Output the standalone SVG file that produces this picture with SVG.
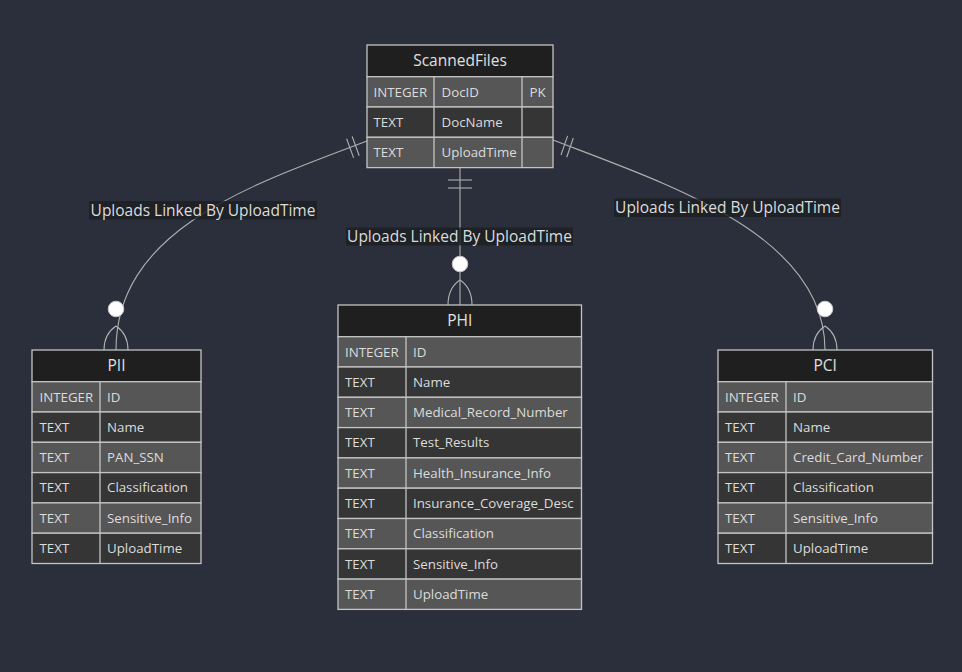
<svg xmlns="http://www.w3.org/2000/svg" width="962" height="672" viewBox="0 0 962 672">
<style>
.bg{fill:#2b2f3b}
.hdr{fill:#1f1f1f;stroke:#c4c4c4;stroke-width:1.3}
.odd{fill:#565656;stroke:#c4c4c4;stroke-width:1.3}
.even{fill:#353535;stroke:#c4c4c4;stroke-width:1.3}
.div{stroke:#c4c4c4;stroke-width:1.3}
.ht{font-family:"Open Sans","Liberation Sans",sans-serif;font-size:15.5px;fill:#e0e0e0;text-anchor:middle}
.rt{font-family:"Open Sans","Liberation Sans",sans-serif;font-size:13.3px;fill:#dcdcdc}
.edge{fill:none;stroke:#b0b0b0;stroke-width:1.1}
.lblbg{fill:#1c1e22;opacity:0.8}
.lt{font-family:"Open Sans","Liberation Sans",sans-serif;font-size:15.5px;fill:#dcdcdc;text-anchor:middle}
.dot{fill:#ffffff;stroke:#c4c4c4;stroke-width:1}
</style>
<rect class="bg" x="0" y="0" width="962" height="672"/>

<g id="connectors">
  <!-- ScannedFiles -> PII -->
  <path class="edge" d="M367,141 C250,185 116,230 116,350"/>
  <line class="edge" x1="352.2" y1="136.5" x2="359.2" y2="155.7"/>
  <line class="edge" x1="346.6" y1="138.8" x2="353.6" y2="157.9"/>
  <circle class="dot" cx="116" cy="309" r="7.8"/>
  <path class="edge" d="M116,326 Q104,334 104,350 M116,326 Q128,334 128,350"/>
  <!-- ScannedFiles -> PHI -->
  <path class="edge" d="M460,168 L460,305"/>
  <line class="edge" x1="448" y1="180" x2="472" y2="180"/>
  <line class="edge" x1="448" y1="188" x2="472" y2="188"/>
  <circle class="dot" cx="460" cy="264" r="7.8"/>
  <path class="edge" d="M460,280 Q448,288 448,305 M460,280 Q472,288 472,305"/>
  <!-- ScannedFiles -> PCI -->
  <path class="edge" d="M553,140 C670,185 825,235 825,350"/>
  <line class="edge" x1="567.6" y1="135.9" x2="561" y2="155"/>
  <line class="edge" x1="573.3" y1="138" x2="566.7" y2="157.2"/>
  <circle class="dot" cx="825" cy="309" r="7.8"/>
  <path class="edge" d="M825,326 Q813,334 813,350 M825,326 Q837,334 837,350"/>
  <!-- labels -->
  <rect class="lblbg" x="89" y="201" width="228" height="18.5"/>
  <text class="lt" x="203" y="215.5">Uploads Linked By UploadTime</text>
  <rect class="lblbg" x="346" y="227.5" width="227" height="18"/>
  <text class="lt" x="459.5" y="241.5">Uploads Linked By UploadTime</text>
  <rect class="lblbg" x="614" y="198.5" width="227" height="18.5"/>
  <text class="lt" x="727.5" y="212.5">Uploads Linked By UploadTime</text>
</g>

<g id="ScannedFiles">
  <rect class="hdr" x="367" y="45" width="186" height="31.7"/>
  <text class="ht" x="460" y="66">ScannedFiles</text>
  <rect class="odd" x="367" y="76.7" width="186" height="30.3"/>
  <rect class="even" x="367" y="107" width="186" height="30.3"/>
  <rect class="odd" x="367" y="137.3" width="186" height="30.3"/>
  <line class="div" x1="434" y1="76.7" x2="434" y2="167.6"/>
  <line class="div" x1="522" y1="76.7" x2="522" y2="167.6"/>
  <text class="rt" x="373.5" y="96.5">INTEGER</text><text class="rt" x="441.5" y="96.5">DocID</text><text class="rt" x="529.5" y="96.5">PK</text>
  <text class="rt" x="373.5" y="126.8">TEXT</text><text class="rt" x="441.5" y="126.8">DocName</text>
  <text class="rt" x="373.5" y="157.1">TEXT</text><text class="rt" x="441.5" y="157.1">UploadTime</text>
</g>

<g id="PII">
  <rect class="hdr" x="32" y="350" width="169" height="31.7"/>
  <text class="ht" x="116.5" y="371">PII</text>
  <rect class="odd" x="32" y="381.7" width="169" height="30.3"/>
  <rect class="even" x="32" y="412" width="169" height="30.3"/>
  <rect class="odd" x="32" y="442.3" width="169" height="30.3"/>
  <rect class="even" x="32" y="472.6" width="169" height="30.3"/>
  <rect class="odd" x="32" y="502.9" width="169" height="30.3"/>
  <rect class="even" x="32" y="533.2" width="169" height="30.3"/>
  <line class="div" x1="100" y1="381.7" x2="100" y2="563.5"/>
  <text class="rt" x="39.5" y="401.5">INTEGER</text><text class="rt" x="107" y="401.5">ID</text>
  <text class="rt" x="39.5" y="431.8">TEXT</text><text class="rt" x="107" y="431.8">Name</text>
  <text class="rt" x="39.5" y="462.1">TEXT</text><text class="rt" x="107" y="462.1">PAN_SSN</text>
  <text class="rt" x="39.5" y="492.4">TEXT</text><text class="rt" x="107" y="492.4">Classification</text>
  <text class="rt" x="39.5" y="522.7">TEXT</text><text class="rt" x="107" y="522.7">Sensitive_Info</text>
  <text class="rt" x="39.5" y="553">TEXT</text><text class="rt" x="107" y="553">UploadTime</text>
</g>

<g id="PHI">
  <rect class="hdr" x="338" y="305" width="243.5" height="31.7"/>
  <text class="ht" x="459.7" y="326">PHI</text>
  <rect class="odd" x="338" y="336.7" width="243.5" height="30.3"/>
  <rect class="even" x="338" y="367" width="243.5" height="30.3"/>
  <rect class="odd" x="338" y="397.3" width="243.5" height="30.3"/>
  <rect class="even" x="338" y="427.6" width="243.5" height="30.3"/>
  <rect class="odd" x="338" y="457.9" width="243.5" height="30.3"/>
  <rect class="even" x="338" y="488.2" width="243.5" height="30.3"/>
  <rect class="odd" x="338" y="518.5" width="243.5" height="30.3"/>
  <rect class="even" x="338" y="548.8" width="243.5" height="30.3"/>
  <rect class="odd" x="338" y="579.1" width="243.5" height="30.3"/>
  <line class="div" x1="406" y1="336.7" x2="406" y2="609.4"/>
  <text class="rt" x="345" y="356.5">INTEGER</text><text class="rt" x="413" y="356.5">ID</text>
  <text class="rt" x="345" y="386.8">TEXT</text><text class="rt" x="413" y="386.8">Name</text>
  <text class="rt" x="345" y="417.1">TEXT</text><text class="rt" x="413" y="417.1">Medical_Record_Number</text>
  <text class="rt" x="345" y="447.4">TEXT</text><text class="rt" x="413" y="447.4">Test_Results</text>
  <text class="rt" x="345" y="477.7">TEXT</text><text class="rt" x="413" y="477.7">Health_Insurance_Info</text>
  <text class="rt" x="345" y="508">TEXT</text><text class="rt" x="413" y="508">Insurance_Coverage_Desc</text>
  <text class="rt" x="345" y="538.3">TEXT</text><text class="rt" x="413" y="538.3">Classification</text>
  <text class="rt" x="345" y="568.6">TEXT</text><text class="rt" x="413" y="568.6">Sensitive_Info</text>
  <text class="rt" x="345" y="598.9">TEXT</text><text class="rt" x="413" y="598.9">UploadTime</text>
</g>

<g id="PCI">
  <rect class="hdr" x="718" y="350" width="214.5" height="31.7"/>
  <text class="ht" x="825.2" y="371">PCI</text>
  <rect class="odd" x="718" y="381.7" width="214.5" height="30.3"/>
  <rect class="even" x="718" y="412" width="214.5" height="30.3"/>
  <rect class="odd" x="718" y="442.3" width="214.5" height="30.3"/>
  <rect class="even" x="718" y="472.6" width="214.5" height="30.3"/>
  <rect class="odd" x="718" y="502.9" width="214.5" height="30.3"/>
  <rect class="even" x="718" y="533.2" width="214.5" height="30.3"/>
  <line class="div" x1="786" y1="381.7" x2="786" y2="563.5"/>
  <text class="rt" x="725" y="401.5">INTEGER</text><text class="rt" x="793" y="401.5">ID</text>
  <text class="rt" x="725" y="431.8">TEXT</text><text class="rt" x="793" y="431.8">Name</text>
  <text class="rt" x="725" y="462.1">TEXT</text><text class="rt" x="793" y="462.1">Credit_Card_Number</text>
  <text class="rt" x="725" y="492.4">TEXT</text><text class="rt" x="793" y="492.4">Classification</text>
  <text class="rt" x="725" y="522.7">TEXT</text><text class="rt" x="793" y="522.7">Sensitive_Info</text>
  <text class="rt" x="725" y="553">TEXT</text><text class="rt" x="793" y="553">UploadTime</text>
</g>
</svg>
